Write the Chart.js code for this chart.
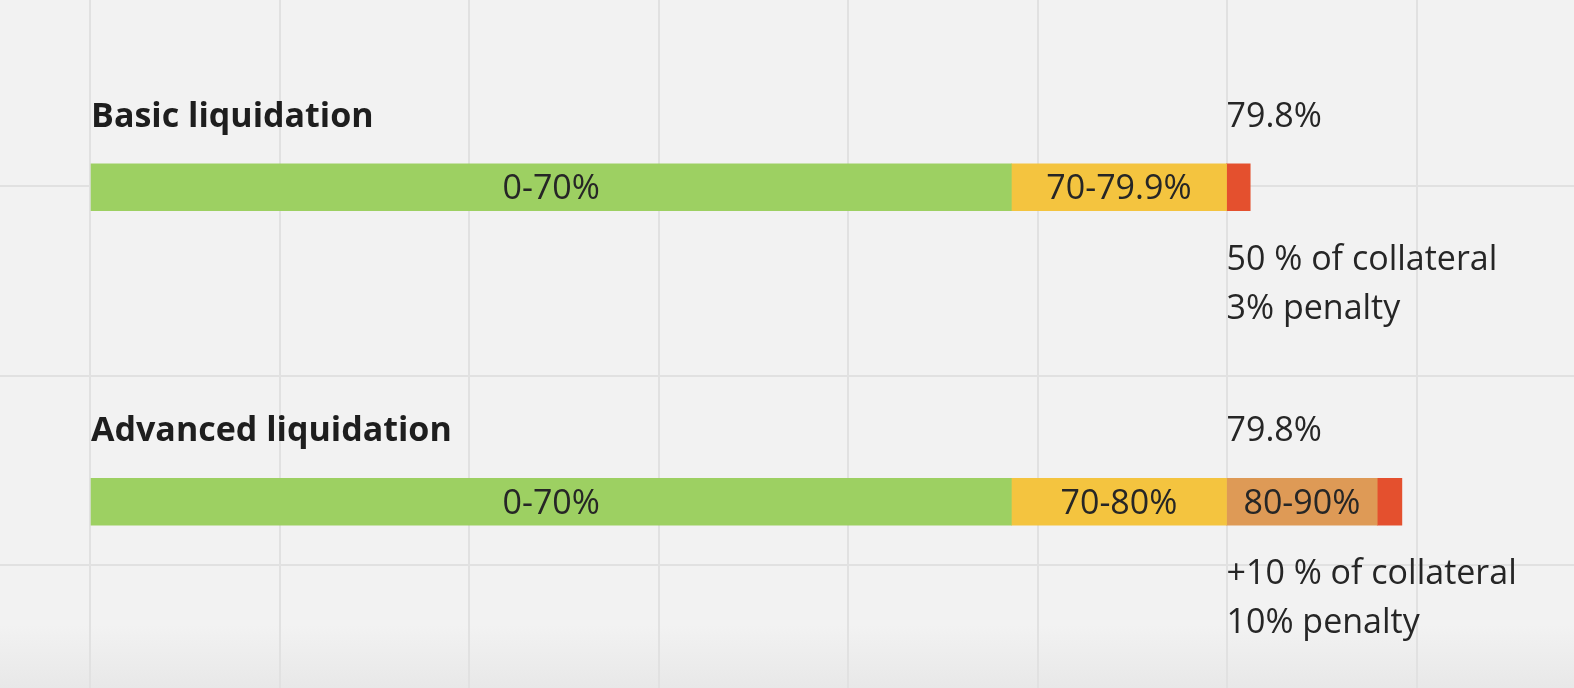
<!DOCTYPE html>
<html>
<head>
<meta charset="utf-8">
<script src="https://cdn.jsdelivr.net/npm/chart.js@4.4.1/dist/chart.umd.min.js"></script>
<style>
    html, body { margin: 0; padding: 0; background: #f2f2f2; }
    #wrap {
        position: relative; width: 1574px; height: 688px;
        background: linear-gradient(to bottom, #f2f2f2 0px, #f2f2f2 625px, #e8e8e8 688px);
    }
</style>
</head>
<body>
<div id="wrap"><canvas id="liq-chart"></canvas></div>
<script>
// Rows of the diagram
var rowNames = ['Basic liquidation', 'Advanced liquidation'];
// Segment lengths (10 units = one grid square)
var greenLen = [48.6, 48.6];
var yellowLen = [11.35, 11.35];
var orangeLen = [0, 7.95];
var redLen = [1.25, 1.3];
// Texts inside the segments
var greenText = ['0-70%', '0-70%'];
var yellowText = ['70-79.9%', '70-80%'];
var orangeText = ['', '80-90%'];
// Notes on the right of each row
var thresholdText = ['79.8%', '79.8%'];
var noteLine1 = ['50 % of collateral', '+10 % of collateral'];
var noteLine2 = ['3% penalty', '10% penalty'];
// Board grid
var gridCols = [0, 10, 20, 30, 40, 50, 60, 70];
var gridRows = [10, 20, 30];

var gridColor = '#e1e1e1';
var textFont = '"Open Sans", "Noto Sans", sans-serif';

// draws the row titles, segment texts and notes next to the bars
var rowTextPlugin = {
    id: 'rowText',
    afterDatasetsDraw: function (chart) {
        var ctx = chart.ctx;
        ctx.save();
        ctx.textBaseline = 'alphabetic';

        chart.data.datasets.forEach(function (ds, i) {
            if (!ds.segmentText) return;
            chart.getDatasetMeta(i).data.forEach(function (bar, j) {
                var t = ds.segmentText[j];
                if (!t) return;
                ctx.font = '400 34px ' + textFont;
                ctx.fillStyle = '#262626';
                ctx.textAlign = 'center';
                ctx.fillText(t, (bar.x + bar.base) / 2, bar.y + 12);
            });
        });

        var greenBars = chart.getDatasetMeta(0).data;
        var yellowBars = chart.getDatasetMeta(1).data;
        greenBars.forEach(function (bar, j) {
            var top = bar.y - bar.height / 2;
            var bottom = bar.y + bar.height / 2;
            var noteX = yellowBars[j].x;
            ctx.textAlign = 'left';
            ctx.font = '700 34px ' + textFont;
            ctx.fillStyle = '#1e1e1e';
            ctx.fillText(chart.data.labels[j], bar.base, top - 37);
            ctx.font = '400 34px ' + textFont;
            ctx.fillStyle = '#262626';
            ctx.fillText(thresholdText[j], noteX, top - 37);
            ctx.fillText(noteLine1[j], noteX, bottom + 59);
            ctx.fillText(noteLine2[j], noteX, bottom + 108);
        });
        ctx.restore();
    }
};

function gridTicks(values) {
    return function (scale) {
        scale.ticks = values.map(function (v) { return { value: v }; });
    };
}

function xAxis(pos, tickLen) {
    return {
        type: 'linear',
        axis: 'x',
        position: pos,
        stacked: true,
        min: -4.75,
        max: 78.28,
        afterBuildTicks: gridTicks(gridCols),
        grid: { color: gridColor, lineWidth: 2, drawTicks: true, tickLength: tickLen },
        border: { display: false },
        ticks: { display: false }
    };
}

var ctx = document.getElementById('liq-chart').getContext('2d');
var liqChart = new Chart(ctx, {
    type: 'bar',
    data: {
        labels: rowNames,
        datasets: [{
            label: 'safe',
            data: greenLen,
            segmentText: greenText,
            backgroundColor: '#9dd062'
        }, {
            label: 'warning',
            data: yellowLen,
            segmentText: yellowText,
            backgroundColor: '#f4c43f'
        }, {
            label: 'partial',
            data: orangeLen,
            segmentText: orangeText,
            backgroundColor: '#de9a56'
        }, {
            label: 'liquidated',
            data: redLen,
            backgroundColor: '#e4502e'
        }]
    },
    options: {
        indexAxis: 'y',
        responsive: true,
        maintainAspectRatio: false,
        animation: false,
        layout: { padding: 0 },
        datasets: {
            bar: { barThickness: 47, borderWidth: 0 }
        },
        plugins: {
            legend: { display: false },
            tooltip: { enabled: false }
        },
        scales: {
            x: xAxis('bottom', 29),
            xTop: xAxis('top', 30),
            y: {
                type: 'category',
                stacked: true,
                display: false
            },
            yGrid: {
                type: 'linear',
                axis: 'y',
                position: 'left',
                reverse: true,
                offset: false,
                min: 1.77,
                max: 34.95,
                afterBuildTicks: gridTicks(gridRows),
                grid: { color: gridColor, lineWidth: 2, drawTicks: false, offset: false },
                border: { display: false },
                ticks: { display: false }
            }
        }
    },
    plugins: [rowTextPlugin]
});
</script>
</body>
</html>
